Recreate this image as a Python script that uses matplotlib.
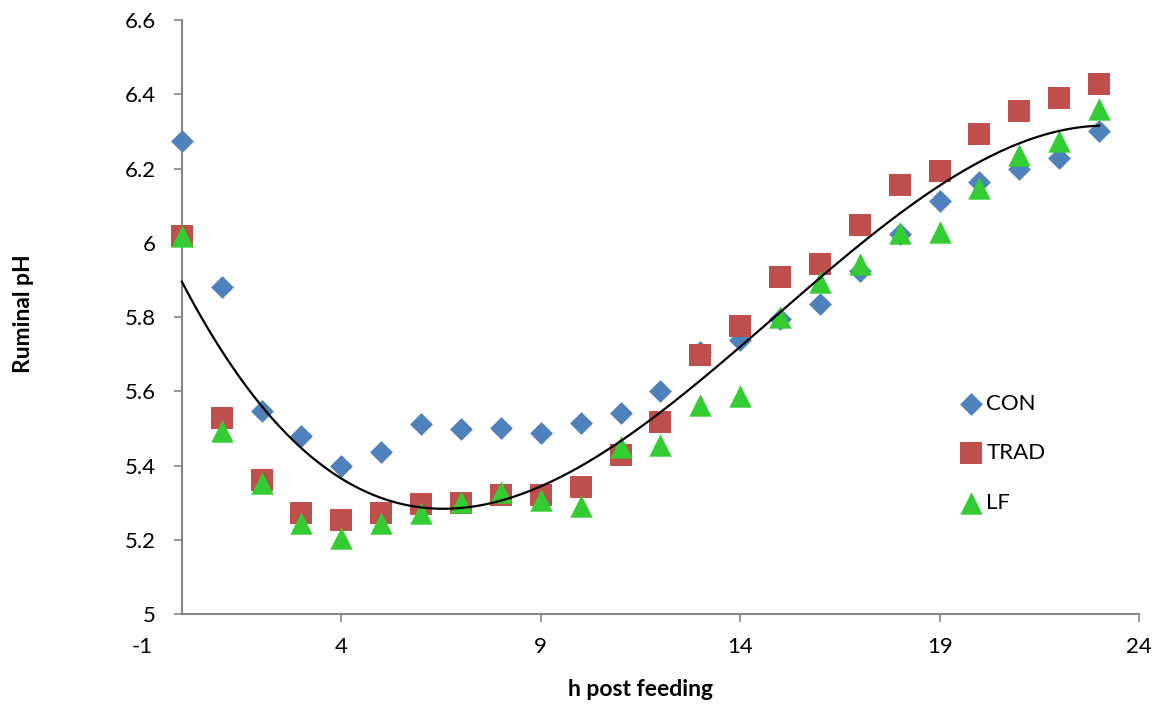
import numpy as np
import matplotlib
matplotlib.use("Agg")
import matplotlib.pyplot as plt

hours = list(range(24))
con = [6.275, 5.882, 5.547, 5.480, 5.400, 5.437, 5.512, 5.498, 5.500, 5.487, 5.515, 5.542,
       5.602, 5.705, 5.737, 5.796, 5.836, 5.925, 6.024, 6.113, 6.164, 6.200, 6.228, 6.302]
trad = [6.017, 5.527, 5.362, 5.272, 5.253, 5.272, 5.296, 5.300, 5.320, 5.320, 5.342, 5.428,
        5.516, 5.697, 5.777, 5.909, 5.942, 6.049, 6.156, 6.194, 6.293, 6.355, 6.390, 6.428]
lf = [6.019, 5.492, 5.352, 5.245, 5.205, 5.245, 5.272, 5.301, 5.328, 5.307, 5.290, 5.449,
      5.455, 5.562, 5.586, 5.801, 5.893, 5.944, 6.027, 6.030, 6.148, 6.237, 6.275, 6.360]

xticks = [-1, 4, 9, 14, 19, 24]
yticks = [5, 5.2, 5.4, 5.6, 5.8, 6, 6.2, 6.4, 6.6]

plt.rcParams['font.family'] = ['Lato', 'DejaVu Sans']

fig = plt.figure(figsize=(11.56, 7.07), dpi=100)
ax = fig.add_axes([0.1228, 0.1315, 0.8625, 0.8402])

axcol = '#868686'
ax.scatter(hours, con, marker='D', s=135, color='#4F81BD', label='CON', zorder=3, linewidths=0)
ax.scatter(hours, trad, marker='s', s=250, color='#C0504D', label='TRAD', zorder=3, linewidths=0)
ax.scatter(hours, lf, marker='^', s=260, color='#33CC33', label='LF', zorder=3, linewidths=0)

# third-order polynomial trendline fitted to all readings
xs_all = np.concatenate([hours, hours, hours])
ys_all = np.concatenate([con, trad, lf])
coef = np.polyfit(xs_all, ys_all, 3)
xf = np.linspace(min(hours), max(hours), 300)
ax.plot(xf, np.polyval(coef, xf), color='black', lw=1.6, zorder=4)

ax.set_xlim(-1, 24)
ax.set_ylim(5, 6.6)
ax.set_xticks(xticks)
ax.set_yticks(yticks)
ax.set_yticklabels([f"{v:g}" for v in yticks])
ax.set_xticklabels([f"{v:g}" for v in xticks])

for s in ['top', 'right']:
    ax.spines[s].set_visible(False)
ax.spines['left'].set_position(('data', 0))
ax.spines['bottom'].set_bounds(0, 24)
for s in ['left', 'bottom']:
    ax.spines[s].set_color(axcol)
    ax.spines[s].set_linewidth(1.5)

ax.tick_params(axis='both', direction='out', length=5.5, width=1.2, color=axcol,
               labelsize=16, labelcolor='black')
ax.tick_params(axis='y', pad=13)
ax.tick_params(axis='x', pad=11)
ax.xaxis.get_major_ticks()[0].tick1line.set_visible(False)

ax.set_xlabel('h post feeding', fontsize=16.5, fontweight='bold', labelpad=16)
ax.set_ylabel('Ruminal pH', fontsize=16.5, fontweight='bold')
ax.yaxis.set_label_coords(-0.108, 0.505)

leg = ax.legend(loc='upper left', bbox_to_anchor=(0.81, 0.386), frameon=False,
                fontsize=16, handletextpad=0.15, labelspacing=1.33, handlelength=1.1,
                borderaxespad=0)

fig.savefig('out.png', dpi=100)
